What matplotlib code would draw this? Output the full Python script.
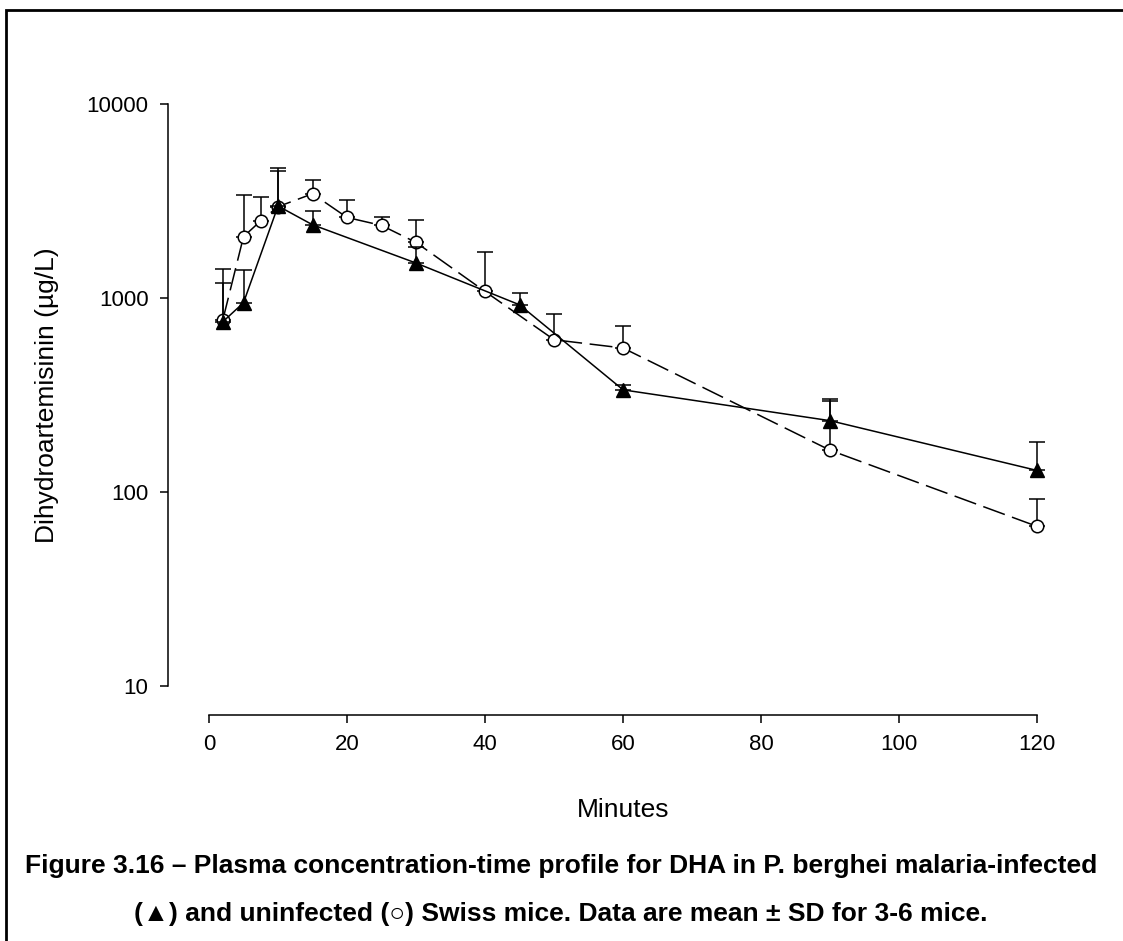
import matplotlib
matplotlib.use("Agg")
import matplotlib.pyplot as plt
from matplotlib.patches import Rectangle
import numpy as np

plt.rcParams['font.family'] = ['Liberation Sans', 'DejaVu Sans']

# infected mice (filled triangles, solid line)
inf_time = [2, 5, 10, 15, 30, 45, 60, 90, 120]
inf_mean = [754, 945, 2980, 2385, 1514, 922, 336, 233, 129]
inf_sd = [445, 452, 1514, 433, 308, 145, 22, 68, 52]

# uninfected mice (open circles, dashed line)
uninf_time = [2, 5, 7.5, 10, 15, 20, 25, 30, 40, 50, 60, 90, 120]
uninf_mean = [770, 2070, 2500, 2956, 3446, 2601, 2366, 1933, 1080, 609, 552, 164, 66.4]
uninf_sd = [645, 1336, 818, 1721, 609, 597, 234, 577, 645, 213, 161, 131, 25.4]

x_ticks = [0, 20, 40, 60, 80, 100, 120]
y_ticks = [10, 100, 1000, 10000]


def main():
    fig = plt.figure(figsize=(11.23, 9.41), dpi=100)
    W, H = 1123, 941
    ax = fig.add_axes([168 / W, 1 - 715 / H, (1060 - 168) / W, (715 - 90) / H])

    ax.set_yscale('log')
    ax.set_xlim(-5.94, 123.3)
    ax.set_ylim(7.08, 11810)

    # uninfected
    ax.errorbar(uninf_time, uninf_mean,
                yerr=[np.zeros(len(uninf_sd)), uninf_sd],
                color='black', ecolor='black', elinewidth=1.1, capsize=6, capthick=1.1,
                linestyle=(0, (15, 5)), linewidth=1.1,
                marker='o', markersize=9, markerfacecolor='white',
                markeredgecolor='black', markeredgewidth=1.1,
                clip_on=False, zorder=3)

    # infected
    ax.errorbar(inf_time, inf_mean,
                yerr=[np.zeros(len(inf_sd)), inf_sd],
                color='black', ecolor='black', elinewidth=1.1, capsize=6, capthick=1.1,
                linestyle='-', linewidth=1.1,
                marker='^', markersize=10, markerfacecolor='black',
                markeredgecolor='black',
                clip_on=False, zorder=4)

    for side in ['top', 'right']:
        ax.spines[side].set_visible(False)
    ax.spines['left'].set_bounds(10, 10000)
    ax.spines['bottom'].set_bounds(0, 120)
    ax.spines['left'].set_linewidth(1.1)
    ax.spines['bottom'].set_linewidth(1.1)

    ax.set_xticks(x_ticks)
    ax.set_xticklabels([str(t) for t in x_ticks])
    ax.set_yticks(y_ticks)
    ax.set_yticklabels([str(t) for t in y_ticks])
    ax.yaxis.set_minor_locator(matplotlib.ticker.NullLocator())
    ax.tick_params(direction='out', length=6, width=1.1, labelsize=16, pad=8)

    ax.set_xlabel('Minutes', fontsize=19)
    ax.xaxis.set_label_coords((623 - 168) / 892, (715 - 798) / 625)
    ax.set_ylabel('Dihydroartemisinin (µg/L)', fontsize=19)
    ax.yaxis.set_label_coords((59 - 168) / 892, (715 - 395) / 625)

    # page frame
    fig.patches.append(Rectangle((6 / W, -0.1), 1.2, (1 - 10 / H) + 0.1,
                                 transform=fig.transFigure, fill=False,
                                 edgecolor='black', linewidth=2))

    fig.text(561 / W, 1 - 866 / H,
             'Figure 3.16 – Plasma concentration-time profile for DHA in P. berghei malaria-infected',
             ha='center', va='center', fontsize=19, fontweight='bold')
    fig.text(561 / W, 1 - 914 / H,
             '(▲) and uninfected (○) Swiss mice. Data are mean ± SD for 3-6 mice.',
             ha='center', va='center', fontsize=19, fontweight='bold')

    plt.savefig('out.png', dpi=100)


if __name__ == "__main__":
    main()
